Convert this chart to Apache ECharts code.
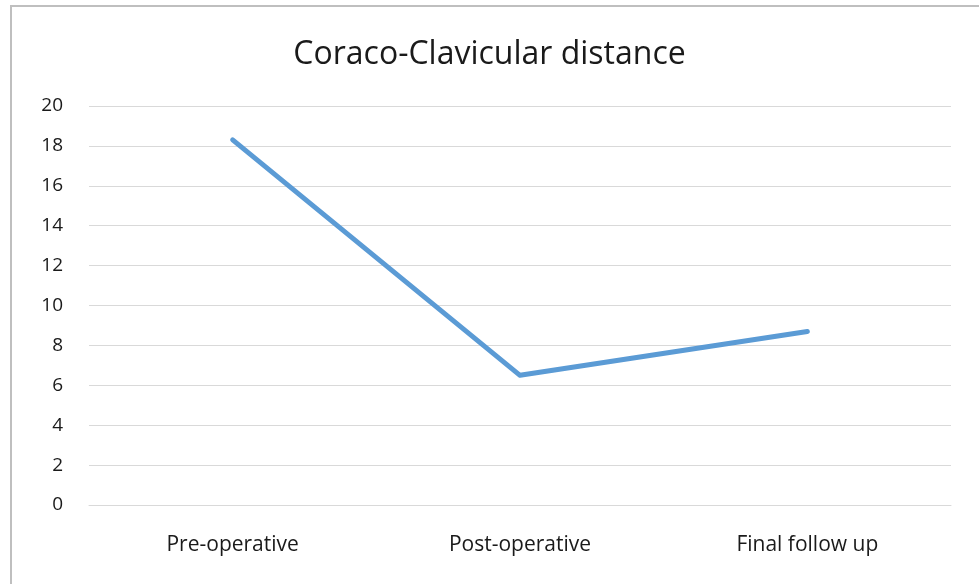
<!DOCTYPE html>
<html>
<head>
<meta charset="utf-8">
<script src="https://cdn.jsdelivr.net/npm/echarts@6/dist/echarts.min.js"></script>
<style>
html,body{margin:0;padding:0;background:#fff;}
#c{width:979px;height:584px;}
</style>
</head>
<body>
<div id="c"></div>
<script>
const titleText = 'Coraco-Clavicular distance';
const categories = ['Pre-operative', 'Post-operative', 'Final follow up'];
const values = [18.3, 6.5, 8.7];
const yMin = 0, yMax = 20, yStep = 2;

const chart = echarts.init(document.getElementById('c'), null, {renderer: 'canvas'});
chart.setOption({
  animation: false,
  backgroundColor: '#ffffff',
  title: {
    text: titleText,
    left: 'center',
    top: 34,
    textStyle: {fontFamily: 'Open Sans', fontSize: 32, fontWeight: 'normal', color: '#1a1a1a'}
  },
  graphic: [{
    type: 'rect',
    shape: {x: 11, y: 6, width: 1200, height: 1200},
    style: {fill: 'none', stroke: '#bfbfbf', lineWidth: 2},
    silent: true
  }],
  grid: {left: 89, right: 28, top: 106, bottom: 79, containLabel: false},
  xAxis: {
    type: 'category',
    data: categories,
    boundaryGap: true,
    axisLine: {show: true, lineStyle: {color: '#d9d9d9', width: 1}},
    axisTick: {show: false},
    axisLabel: {fontFamily: 'Open Sans', fontSize: 21, color: '#1a1a1a', margin: 30}
  },
  yAxis: {
    type: 'value',
    min: yMin, max: yMax, interval: yStep,
    axisLine: {show: false},
    axisTick: {show: false},
    splitLine: {lineStyle: {color: '#d9d9d9', width: 1}},
    axisLabel: {fontFamily: 'Open Sans', fontSize: 19, color: '#1a1a1a', margin: 26}
  },
  series: [{
    type: 'line',
    data: values,
    symbol: 'none',
    lineStyle: {color: '#5b9bd5', width: 5, cap: 'round', join: 'round'},
    itemStyle: {color: '#5b9bd5'}
  }]
});
</script>
</body>
</html>
